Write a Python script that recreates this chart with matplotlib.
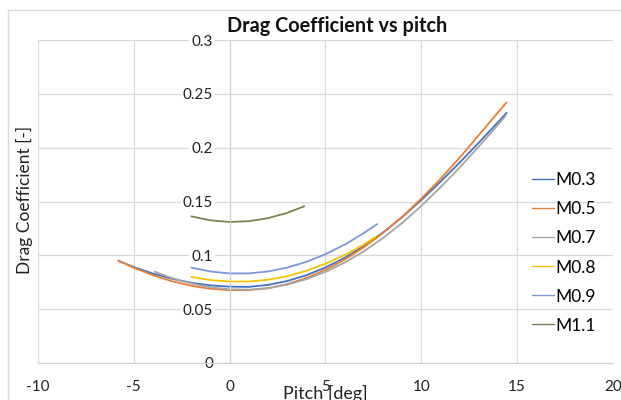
import matplotlib
matplotlib.use('Agg')
import matplotlib.pyplot as plt
from matplotlib.lines import Line2D

plt.rcParams['font.family'] = ['Lato', 'DejaVu Sans']

# pitch [deg] and drag coefficient
pitch_m03 = [-5.8, -5, -4, -3, -2, -1, 0, 1, 2, 3, 4, 5, 6, 7, 8, 9, 10, 11, 12, 13, 14, 14.45]
cd_m03 = [0.0949, 0.0891, 0.0831, 0.0782, 0.0745, 0.0721, 0.0709, 0.0707, 0.0725, 0.0761, 0.0815,
          0.0887, 0.0977, 0.1085, 0.1211, 0.1354, 0.1513, 0.1683, 0.1861, 0.2046, 0.2236, 0.2323]

pitch_m05 = [-5.8, -5, -4, -3, -2, -1, 0, 1, 2, 3, 4, 5, 6, 7, 8, 9, 10, 11, 12, 13, 14, 14.45]
cd_m05 = [0.0951, 0.0885, 0.0815, 0.0759, 0.0717, 0.0689, 0.0677, 0.0677, 0.0694, 0.0732, 0.0789,
          0.0865, 0.0960, 0.1074, 0.1207, 0.1358, 0.1526, 0.1710, 0.1906, 0.2116, 0.2327, 0.2420]

pitch_m07 = [-3.9, -3, -2, -1, 0, 1, 2, 3, 4, 5, 6, 7, 8, 9, 10, 11, 12, 13, 14, 14.4]
cd_m07 = [0.0848, 0.0788, 0.0738, 0.0703, 0.0684, 0.0681, 0.0695, 0.0728, 0.0778, 0.0846, 0.0933,
          0.1037, 0.1160, 0.1300, 0.1458, 0.1631, 0.1815, 0.2009, 0.2212, 0.2296]

pitch_m08 = [-2, -1, 0, 1, 2, 3, 4, 5, 6, 7, 7.6]
cd_m08 = [0.080, 0.077, 0.0757, 0.0757, 0.0773, 0.0806, 0.0856, 0.0922, 0.1003, 0.110, 0.117]

pitch_m09 = [-2, -1, 0, 1, 2, 3, 4, 5, 6, 7, 7.7]
cd_m09 = [0.0886, 0.085, 0.0832, 0.0832, 0.085, 0.0886, 0.0939, 0.101, 0.1099, 0.1206, 0.129]

pitch_m11 = [-2, -1, 0, 1, 2, 3, 3.9]
cd_m11 = [0.1362, 0.1325, 0.1310, 0.1317, 0.1345, 0.1394, 0.1456]

labels = ['M0.3', 'M0.5', 'M0.7', 'M0.8', 'M0.9', 'M1.1']
colors = ['#4472C4', '#ED7D31', '#A5A5A5', '#F5C400', '#7A98D8', '#7F7F55']

x_ticks = [-10, -5, 0, 5, 10, 15, 20]
y_ticks = [0, 0.05, 0.1, 0.15, 0.2, 0.25, 0.3]
y_tick_labels = ['0', '0.05', '0.1', '0.15', '0.2', '0.25', '0.3']

fig = plt.figure(figsize=(6.21, 4.0), dpi=100)
ax = fig.add_axes([0.061, 0.0925, 0.926, 0.8075])

series = [(pitch_m03, cd_m03), (pitch_m05, cd_m05), (pitch_m07, cd_m07),
          (pitch_m08, cd_m08), (pitch_m09, cd_m09), (pitch_m11, cd_m11)]
for (xs, ys), lab, col in zip(series, labels, colors):
    ax.plot(xs, ys, color=col, lw=1.3, label=lab, solid_capstyle='round', solid_joinstyle='round')

ax.set_xlim(-10, 20)
ax.set_ylim(0, 0.3)
ax.set_xticks(x_ticks)
ax.set_yticks(y_ticks)
ax.set_xticklabels([str(t) for t in x_ticks])
ax.set_yticklabels(y_tick_labels)
ax.grid(True, color='#d9d9d9', lw=0.9)
ax.set_axisbelow(True)

# Excel style: value axis crosses at pitch = 0
ax.spines['left'].set_position(('data', 0))
ax.spines['left'].set_color('#d0d0d0')
ax.spines['bottom'].set_color('#d0d0d0')
ax.spines['top'].set_visible(False)
ax.spines['right'].set_visible(False)
ax.tick_params(axis='y', length=0, labelsize=11, pad=12, labelcolor='#222222')
ax.tick_params(axis='x', length=0, labelsize=11, pad=12, labelcolor='#222222')
for t in ax.get_yticklabels():
    t.set_bbox(dict(facecolor='white', edgecolor='none', pad=1.5))

ax.set_xlabel('Pitch [deg]', fontsize=13, color='#222222')
ax.xaxis.set_label_coords(0.5, -0.095)
ax.xaxis.label.set_va('center')
ax.set_ylabel('Drag Coefficient [-]', fontsize=12.5, color='#222222')
ax.yaxis.set_label_coords(-0.0235, 0.505)
ax.yaxis.label.set_va('center')

fig.text(0.543, 0.935, 'Drag Coefficient vs pitch', ha='center', va='center',
         fontsize=14.3, fontweight='bold', color='#111111')

leg = ax.legend(loc='center left', bbox_to_anchor=(0.842, 0.3675), bbox_transform=fig.transFigure,
                frameon=False, fontsize=12.5, handlelength=1.3, handletextpad=0.1,
                labelspacing=0.75, borderpad=0)
for ln in leg.get_lines():
    ln.set_linewidth(1.0)

# chart area border
fig.add_artist(Line2D([0.013, 1.0], [0.975, 0.975], color='#d9d9d9', lw=1))
fig.add_artist(Line2D([0.013, 0.013], [0.0, 0.975], color='#d9d9d9', lw=1))

fig.savefig('out.png', dpi=100)
